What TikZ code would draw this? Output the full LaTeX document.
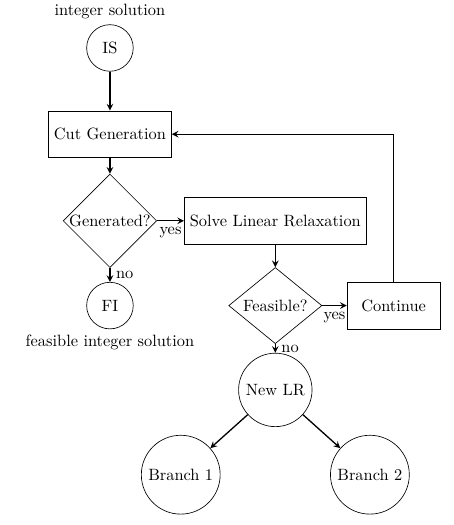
\documentclass[tikz,border=0pt]{standalone}
\usetikzlibrary{shapes.geometric, arrows.meta}

\begin{document}
\begin{tikzpicture}[>=stealth,
    box/.style={draw, align=center, minimum width=2cm, minimum height=1cm},
    decision/.style={draw, diamond, inner sep=0pt, minimum width=2cm},
    state/.style={draw, circle, minimum size=1cm},
    arr/.style={->, thick}]

    \useasboundingbox (-2.36,1.03) rectangle (7.38,-10.24);

    \node[state, label=above:integer solution] (is) at (0,0) {IS};
    \node[box] (cut) at (0,-1.85) {Cut Generation};
    \node[decision] (gen) at (0,-3.71) {Generated?};
    \node[state, label=below:feasible integer solution] (fi) at (0,-5.53) {FI};
    \node[box] (solve) at (3.55,-3.71) {Solve Linear Relaxation};
    \node[decision] (feas) at (3.55,-5.53) {Feasible?};
    \node[box] (cont) at (6.09,-5.53) {Continue};
    \node[state] (newlr) at (3.55,-7.34) {New LR};
    \node[state] (br1) at (1.52,-9.16) {Branch 1};
    \node[state] (br2) at (5.58,-9.16) {Branch 2};

    % edges
    \draw[arr] (is) -- (cut);
    \draw[arr] (cut) -- (gen);
    \draw[arr] (gen.east) -- node[below]{yes} (solve.west);
    \draw[arr] (gen.south) -- node[right]{no} (fi.north);
    \draw[arr] (solve) -- (feas);
    \draw[arr] (feas.east) -- node[below]{yes} (cont.west);
    \draw[arr] (feas.south) -- node[right]{no} (newlr.north);
    \draw[arr] (cont.north) |- (cut.east);
    \draw[arr] (newlr) -- (br1);
    \draw[arr] (newlr) -- (br2);
  \end{tikzpicture}
\end{document}
